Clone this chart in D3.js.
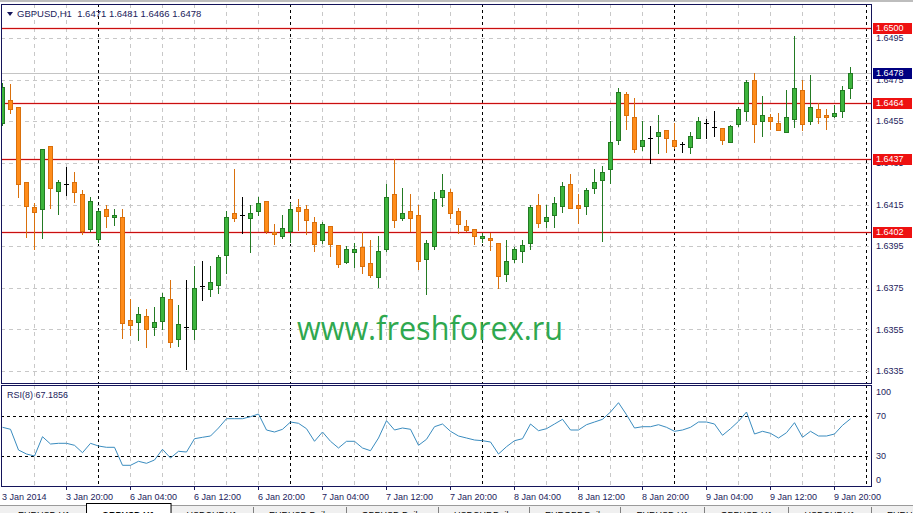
<!DOCTYPE html>
<html><head><meta charset="utf-8">
<script src="https://cdn.jsdelivr.net/npm/d3@7"></script>
<style>body{margin:0;background:#fff;overflow:hidden}svg{display:block}</style>
</head><body><svg id="c" width="913" height="513"></svg>
<script>
// ---------- DATA ----------
const chartTitle = "GBPUSD,H1";
const openP  = [1.64541,1.64651,1.64617,1.64256,1.64138,1.64127,1.64430,1.64216,1.64247,1.64256,1.64199,1.64034,1.63986,1.64127,1.64088,1.64090,1.63594,1.63584,1.63615,1.63563,1.63592,1.63696,1.63503,1.63563,1.63554,1.63757,1.63746,1.63765,1.63906,1.64108,1.64098,1.64087,1.64117,1.64165,1.64018,1.63997,1.64024,1.64138,1.64127,1.64066,1.63978,1.64046,1.63954,1.63875,1.63923,1.63944,1.63869,1.63803,1.63935,1.64202,1.64086,1.64119,1.64098,1.63887,1.63952,1.64184,1.64208,1.64117,1.64046,1.64034,1.63988,1.63989,1.63964,1.63815,1.63887,1.63925,1.63964,1.64146,1.64072,1.64098,1.64144,1.64247,1.64147,1.64144,1.64228,1.64266,1.64319,1.64459,1.64681,1.64569,1.64430,1.64469,1.64478,1.64507,1.64459,1.64440,1.64428,1.64469,1.64541,1.64524,1.64517,1.64449,1.64539,1.64598,1.64747,1.64550,1.64569,1.64541,1.64497,1.64560,1.64699,1.64550,1.64608,1.64579,1.64576,1.64598,1.64710];
const highP  = [1.64734,1.64729,1.64620,1.64258,1.64156,1.64418,1.64432,1.64267,1.64331,1.64306,1.64219,1.64186,1.64123,1.64146,1.64128,1.64127,1.63696,1.63658,1.63650,1.63656,1.63724,1.63787,1.63667,1.63787,1.63855,1.63879,1.63855,1.63906,1.64120,1.64320,1.64187,1.64147,1.64186,1.64167,1.64056,1.64099,1.64156,1.64176,1.64147,1.64088,1.64067,1.64046,1.63957,1.63952,1.63964,1.64016,1.63979,1.63998,1.64247,1.64368,1.64231,1.64202,1.64147,1.63979,1.64208,1.64296,1.64226,1.64135,1.64074,1.64034,1.64014,1.64012,1.63964,1.63979,1.63944,1.63979,1.64146,1.64200,1.64147,1.64186,1.64258,1.64295,1.64200,1.64229,1.64319,1.64336,1.64552,1.64709,1.64689,1.64661,1.64552,1.64526,1.64579,1.64507,1.64541,1.64451,1.64499,1.64569,1.64560,1.64600,1.64517,1.64531,1.64617,1.64747,1.64782,1.64670,1.64587,1.64589,1.64700,1.64960,1.64748,1.64772,1.64637,1.64608,1.64628,1.64720,1.64810];
const lowP   = [1.64532,1.64589,1.64184,1.63995,1.63935,1.63988,1.64134,1.64104,1.64195,1.64163,1.64008,1.64024,1.63971,1.64043,1.64051,1.63510,1.63522,1.63499,1.63464,1.63523,1.63554,1.63464,1.63472,1.63359,1.63503,1.63693,1.63712,1.63724,1.63822,1.64072,1.64012,1.63923,1.64098,1.64012,1.63960,1.63988,1.63970,1.64026,1.64008,1.63925,1.63964,1.63903,1.63848,1.63868,1.63851,1.63822,1.63800,1.63755,1.63928,1.64043,1.64075,1.64023,1.63840,1.63720,1.63935,1.64143,1.64086,1.64014,1.64024,1.63962,1.63971,1.63931,1.63747,1.63784,1.63874,1.63874,1.63935,1.64043,1.64043,1.64043,1.64115,1.64135,1.64061,1.64104,1.64206,1.63976,1.64254,1.64441,1.64515,1.64403,1.64411,1.64348,1.64396,1.64403,1.64420,1.64403,1.64396,1.64469,1.64469,1.64481,1.64440,1.64449,1.64528,1.64558,1.64449,1.64478,1.64515,1.64507,1.64497,1.64524,1.64508,1.64539,1.64541,1.64515,1.64569,1.64569,1.64660];
const closeP = [1.64716,1.64608,1.64247,1.64144,1.64115,1.64415,1.64228,1.64258,1.64247,1.64208,1.64024,1.64165,1.64117,1.64096,1.64099,1.63582,1.63573,1.63623,1.63554,1.63584,1.63706,1.63491,1.63575,1.63563,1.63748,1.63757,1.63778,1.63896,1.64088,1.64086,1.64098,1.64107,1.64157,1.64023,1.64007,1.64036,1.64127,1.64117,1.64074,1.63962,1.64056,1.63962,1.63866,1.63936,1.63936,1.63853,1.63811,1.63925,1.64186,1.64074,1.64109,1.64086,1.63877,1.63964,1.64175,1.64218,1.64108,1.64055,1.64026,1.63998,1.63999,1.63978,1.63805,1.63879,1.63935,1.63954,1.64138,1.64062,1.64088,1.64156,1.64237,1.64135,1.64135,1.64219,1.64258,1.64306,1.64451,1.64689,1.64579,1.64415,1.64459,1.64469,1.64497,1.64469,1.64429,1.64440,1.64478,1.64550,1.64541,1.64524,1.64459,1.64526,1.64608,1.64737,1.64539,1.64579,1.64550,1.64507,1.64569,1.64709,1.64539,1.64617,1.64569,1.64569,1.64589,1.64700,1.64780];
const rsiValues = [58.7,56.7,36,32,30,49.3,42,42.7,42.7,40.7,33.3,42.7,40,38.7,38.7,20.7,20.7,24.7,22.7,26,36.7,28,34.7,34,47.3,48.7,50,58,67.3,67.3,67.3,69.3,72,56,54,56.7,64,62.7,57.3,44.7,54,44.7,38,44.7,44.7,38,35.3,48,65.3,56,58,56.7,40.7,46.7,59.3,62,54.7,50,48,46,45.3,44,32,39.3,45.3,47.3,62,55.3,57.3,62,66.7,56,56,61.3,64,66.7,74,83.3,71.3,58,59.3,59.3,61.3,58.7,54.7,56,58.7,64,64,62,50.7,57.3,64.7,74,52,54.7,52.7,48,53.3,63.3,48.7,54.7,50,50,52,60.7,67.19];
const rsiLabel = "RSI(8) 67.1856";
const priceTicks = [1.6495,1.6475,1.6455,1.6435,1.6415,1.6395,1.6375,1.6355,1.6335];
const levelLines = [1.6500,1.6464,1.6437,1.6402];
const currentPrice = 1.6478;
const rsiTicks = [100,70,30,0];
const rsiLevels = [70,30];
const xTickBars = [0,8,16,24,32,40,48,56,64,72,80,88,96,104];
const xTickLabels = ["3 Jan 2014","3 Jan 20:00","6 Jan 04:00","6 Jan 12:00","6 Jan 20:00","7 Jan 04:00","7 Jan 12:00","7 Jan 20:00","8 Jan 04:00","8 Jan 12:00","8 Jan 20:00","9 Jan 04:00","9 Jan 12:00","9 Jan 20:00"];
const daySeparatorBars = [12,36,60,84,108];
const tabNames = ["EURUSD,H1","GBPUSD,H1","USDCHF,H1","EURUSD,Daily","GBPUSD,Daily","USDCHF,Daily","EURGBP,Daily","EURUSD,H1","GBPUSD,H1","USDCHF,H1","EURUSD,Daily"];
const activeTab = 1;

// ---------- LAYOUT ----------
const L = 1, R = 871, T = 4, B = 383, RT = 385, RB = 486;
const FONT = "Liberation Sans, Arial, sans-serif";
const NAVY = "#14145a", TXT = "#1c1c5c";
const svg = d3.select("#c");

const x = d3.scaleLinear().domain([0, 108]).range([2, 866]);
const y = d3.scaleLinear().domain([1.6335, 1.6495]).range([371, 38]);
const yr = d3.scaleLinear().domain([0, 100]).range([486, 386]);
const px = v => Math.round(v) + 0.5;

// top window frame
svg.append("rect").attr("x",0).attr("y",0).attr("width",913).attr("height",2).attr("fill","#bdbdbd");

const defs = svg.append("defs");
defs.append("clipPath").attr("id","cm").append("rect").attr("x",L+1).attr("y",T+1).attr("width",R-L-1).attr("height",B-T-1);
defs.append("clipPath").attr("id","cr").append("rect").attr("x",L+1).attr("y",RT+1).attr("width",R-L-1).attr("height",RB-RT-1);

const gm = svg.append("g").attr("clip-path","url(#cm)");
const gr = svg.append("g").attr("clip-path","url(#cr)");

// vertical grid
const gridBars = d3.range(4, 109, 4);
[[gm,T,B],[gr,RT,RB]].forEach(([g,t,b])=>{
  g.selectAll(null).data(gridBars.filter(d=>!daySeparatorBars.includes(d))).join("line")
    .attr("x1",d=>px(x(d))).attr("x2",d=>px(x(d))).attr("y1",t).attr("y2",b)
    .attr("stroke","#c8c8c8").attr("stroke-dasharray","4,4");
  g.selectAll(null).data(daySeparatorBars).join("line")
    .attr("x1",d=>px(x(d))).attr("x2",d=>px(x(d))).attr("y1",t).attr("y2",b)
    .attr("stroke","#000").attr("stroke-dasharray","3,3");
});

// horizontal price grid
gm.selectAll(null).data(priceTicks).join("line")
  .attr("x1",L).attr("x2",R).attr("y1",d=>px(y(d))).attr("y2",d=>px(y(d)))
  .attr("stroke","#c8c8c8").attr("stroke-dasharray","4,4");

// current price line
gm.append("line").attr("x1",L).attr("x2",R).attr("y1",px(y(currentPrice))).attr("y2",px(y(currentPrice)))
  .attr("stroke","#c4c4c4");

// watermark
gm.append("text").attr("x",297).attr("y",340).attr("font-family","Open Sans, sans-serif")
  .attr("font-size",33).attr("fill","#2fa84f").attr("textLength",266).attr("lengthAdjust","spacingAndGlyphs")
  .text("www.freshforex.ru");

// level lines
levelLines.forEach(v=>{
  gm.append("line").attr("x1",L).attr("x2",R).attr("y1",px(y(v))).attr("y2",px(y(v)))
    .attr("stroke","rgba(255,60,60,0.18)").attr("stroke-width",3);
  gm.append("line").attr("x1",L).attr("x2",R).attr("y1",px(y(v))).attr("y2",px(y(v)))
    .attr("stroke","#c80f0f");
});

// candles
const bars = openP.map((o,i)=>({i,o,h:highP[i],l:lowP[i],c:closeP[i]}));
const bullFill="#3cb43c", bullLine="#237a23", bearFill="#ff8c1a", bearLine="#d9700c";
const cg = gm.selectAll(null).data(bars).join("g");
cg.append("line")
  .attr("x1",d=>Math.round(x(d.i))+0.5).attr("x2",d=>Math.round(x(d.i))+0.5)
  .attr("y1",d=>Math.round(y(d.h))).attr("y2",d=>Math.round(y(d.l))+1)
  .attr("stroke",d=>d.c===d.o?"#000":(d.c>d.o?bullLine:bearLine));
cg.filter(d=>d.c!==d.o).append("rect")
  .attr("x",d=>Math.round(x(d.i))-1.5)
  .attr("y",d=>Math.round(y(Math.max(d.o,d.c)))+0.5)
  .attr("width",4)
  .attr("height",d=>Math.max(2,Math.round(y(Math.min(d.o,d.c)))-Math.round(y(Math.max(d.o,d.c)))))
  .attr("fill",d=>d.c>d.o?bullFill:bearFill)
  .attr("stroke",d=>d.c>d.o?bullLine:bearLine);
cg.filter(d=>d.c===d.o).append("line")
  .attr("x1",d=>Math.round(x(d.i))-2).attr("x2",d=>Math.round(x(d.i))+3)
  .attr("y1",d=>px(y(d.o))).attr("y2",d=>px(y(d.o))).attr("stroke","#000");

// RSI levels & line
gr.selectAll(null).data(rsiLevels).join("line")
  .attr("x1",L).attr("x2",R).attr("y1",d=>px(yr(d))).attr("y2",d=>px(yr(d)))
  .attr("stroke","#000").attr("stroke-dasharray","3,3");
gr.append("path").datum(rsiValues)
  .attr("d",d3.line().x((d,i)=>x(i)+0.5).y(d=>yr(d)))
  .attr("fill","none").attr("stroke","#3a8cbf").attr("stroke-width",1);

// panel borders
svg.append("rect").attr("x",L+0.5).attr("y",T+0.5).attr("width",R-L).attr("height",B-T).attr("fill","none").attr("stroke",NAVY);
svg.append("rect").attr("x",L+0.5).attr("y",RT+0.5).attr("width",R-L).attr("height",RB-RT).attr("fill","none").attr("stroke",NAVY);

// title
svg.append("path").attr("d","M7,12L13,12L10,16Z").attr("fill",NAVY);
svg.append("text").attr("x",17).attr("y",17).attr("font-family",FONT).attr("font-size",9.5).attr("fill",TXT)
  .attr("xml:space","preserve")
  .text(chartTitle+"  "+[openP[106],highP[106],lowP[106],closeP[106]].map(v=>v.toFixed(4)).join(" "));
svg.append("text").attr("x",7).attr("y",398).attr("font-family",FONT).attr("font-size",9).attr("fill",TXT).text(rsiLabel);

// right price axis
svg.selectAll(null).data(priceTicks).join("text")
  .attr("x",876).attr("y",d=>y(d)).attr("dy","0.36em")
  .attr("font-family",FONT).attr("font-size",9).attr("fill",TXT).text(d=>d.toFixed(4));

// level labels
const lab = (v,fill)=>{
  const yy = Math.round(y(v));
  svg.append("rect").attr("x",873).attr("y",yy-5).attr("width",39).attr("height",11).attr("fill",fill);
  svg.append("text").attr("x",876).attr("y",yy).attr("dy","0.36em").attr("font-family",FONT)
    .attr("font-size",9).attr("fill","#fff").text(v.toFixed(4));
};
levelLines.forEach(v=>lab(v,"#ee1111"));
lab(currentPrice,"#000080");

// RSI axis labels
svg.selectAll(null).data(rsiTicks).join("text")
  .attr("x",876).attr("y",d=>d===100?yr(d)+6:(d===0?yr(d)-6.5:yr(d)))
  .attr("dy","0.36em").attr("font-family",FONT).attr("font-size",9).attr("fill",TXT).text(d=>d);

// time axis
svg.selectAll(null).data(xTickBars.slice(1)).join("line")
  .attr("x1",d=>px(x(d))).attr("x2",d=>px(x(d))).attr("y1",RB+1).attr("y2",RB+4).attr("stroke",NAVY);
svg.selectAll(null).data(xTickBars).join("text")
  .attr("x",d=>Math.round(x(d))).attr("y",500)
  .attr("font-family",FONT).attr("font-size",9).attr("fill",TXT).text((d,i)=>xTickLabels[i]);

// tab bar
const tabG = svg.append("g");
tabG.append("rect").attr("x",0).attr("y",505).attr("width",913).attr("height",8).attr("fill","#f0f0f0");
tabG.append("line").attr("x1",0).attr("x2",913).attr("y1",505.5).attr("y2",505.5).attr("stroke","#9a9a9a");
let tx = 2;
tabNames.forEach((n,i)=>{
  const tg = tabG.append("g");
  const t = tg.append("text").attr("x",0).attr("y",518).attr("font-family",FONT).attr("font-size",9).attr("fill","#000").text(n);
  if(i===activeTab) t.attr("font-weight","bold");
  const w = t.node().getComputedTextLength() + 32;
  if(i===activeTab){
    tg.insert("rect",":first-child").attr("x",tx+0.5).attr("y",503.5).attr("width",w).attr("height",12).attr("fill","#fff").attr("stroke","#000");
  } else {
    tg.append("line").attr("x1",px(tx+w)).attr("x2",px(tx+w)).attr("y1",507).attr("y2",513).attr("stroke","#808080");
  }
  t.attr("x",tx+16);
  tx += w;
});
</script></body></html>
